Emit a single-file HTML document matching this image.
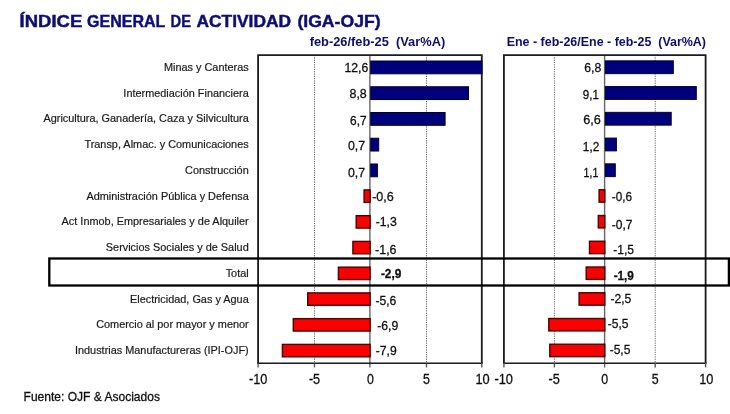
<!DOCTYPE html>
<html><head><meta charset="utf-8"><title>IGA-OJF</title>
<style>html,body{margin:0;padding:0;background:#fff;overflow:hidden}svg{display:block}text{font-family:"Liberation Sans",sans-serif}</style></head>
<body>
<svg width="730" height="414" viewBox="0 0 730 414">
<defs><filter id="soft" x="0" y="0" width="730" height="414" filterUnits="userSpaceOnUse"><feGaussianBlur stdDeviation="0.4"/></filter></defs>
<rect width="730" height="414" fill="#ffffff"/>
<g filter="url(#soft)">
<text x="19.6" y="27.4" font-size="16.5" font-weight="bold" fill="#0c0c74" stroke="#0c0c74" stroke-width="0.45" textLength="62.7" lengthAdjust="spacingAndGlyphs">ÍNDICE</text>
<text x="87.0" y="27.4" font-size="16.5" font-weight="bold" fill="#0c0c74" stroke="#0c0c74" stroke-width="0.45" textLength="78.3" lengthAdjust="spacingAndGlyphs">GENERAL</text>
<text x="170.6" y="27.4" font-size="16.5" font-weight="bold" fill="#0c0c74" stroke="#0c0c74" stroke-width="0.45" textLength="20.4" lengthAdjust="spacingAndGlyphs">DE</text>
<text x="196.5" y="27.4" font-size="16.5" font-weight="bold" fill="#0c0c74" stroke="#0c0c74" stroke-width="0.45" textLength="94.5" lengthAdjust="spacingAndGlyphs">ACTIVIDAD</text>
<text x="297.4" y="27.4" font-size="16.5" font-weight="bold" fill="#0c0c74" stroke="#0c0c74" stroke-width="0.45" textLength="83.2" lengthAdjust="spacingAndGlyphs">(IGA-OJF)</text>
<text x="309.7" y="46.3" font-size="12" font-weight="bold" fill="#10106c" textLength="135.5" lengthAdjust="spacingAndGlyphs" xml:space="preserve">feb-26/feb-25  (Var%A)</text>
<text x="506.7" y="46.3" font-size="12" font-weight="bold" fill="#10106c" textLength="199.3" lengthAdjust="spacingAndGlyphs" xml:space="preserve">Ene - feb-26/Ene - feb-25  (Var%A)</text>
<line x1="314.5" y1="55.1" x2="314.5" y2="363.2" stroke="#555" stroke-width="1" stroke-dasharray="1.1,1.2"/>
<line x1="426.5" y1="55.1" x2="426.5" y2="363.2" stroke="#555" stroke-width="1" stroke-dasharray="1.1,1.2"/>
<line x1="554.4" y1="55.1" x2="554.4" y2="363.2" stroke="#555" stroke-width="1" stroke-dasharray="1.1,1.2"/>
<line x1="655.2" y1="55.1" x2="655.2" y2="363.2" stroke="#555" stroke-width="1" stroke-dasharray="1.1,1.2"/>
<line x1="369.9" y1="55.1" x2="369.9" y2="367.4" stroke="#666" stroke-width="1.4"/>
<line x1="604.6" y1="55.1" x2="604.6" y2="367.4" stroke="#666" stroke-width="1.4"/>
<path d="M258.1 363.2V55.1H481.8V363.2" fill="none" stroke="#1c1c1c" stroke-width="1.8"/>
<line x1="257.20000000000005" y1="363.3" x2="482.7" y2="363.3" stroke="#1c1c1c" stroke-width="1.4"/>
<path d="M503.9 363.2V55.1H705.6V363.2" fill="none" stroke="#1c1c1c" stroke-width="1.8"/>
<line x1="503.0" y1="363.3" x2="706.5" y2="363.3" stroke="#1c1c1c" stroke-width="1.4"/>
<rect x="370.7" y="61.00" width="111.3" height="12.8" fill="#00007c" stroke="#000030" stroke-width="1"/>
<rect x="370.7" y="86.75" width="97.8" height="12.8" fill="#00007c" stroke="#000030" stroke-width="1"/>
<rect x="370.7" y="112.49" width="74.4" height="12.8" fill="#00007c" stroke="#000030" stroke-width="1"/>
<rect x="370.7" y="138.23" width="8.0" height="12.8" fill="#00007c" stroke="#000030" stroke-width="1"/>
<rect x="370.7" y="163.98" width="6.7" height="12.8" fill="#00007c" stroke="#000030" stroke-width="1"/>
<rect x="364.1" y="189.92" width="6.0" height="12.4" fill="#fb0006" stroke="#4a0000" stroke-width="1.4"/>
<rect x="356.2" y="215.67" width="13.9" height="12.4" fill="#fb0006" stroke="#4a0000" stroke-width="1.4"/>
<rect x="352.9" y="241.41" width="17.2" height="12.4" fill="#fb0006" stroke="#4a0000" stroke-width="1.4"/>
<rect x="338.4" y="267.16" width="31.7" height="12.4" fill="#fb0006" stroke="#4a0000" stroke-width="1.4"/>
<rect x="307.7" y="292.91" width="62.4" height="12.4" fill="#fb0006" stroke="#4a0000" stroke-width="1.4"/>
<rect x="293.3" y="318.65" width="76.8" height="12.4" fill="#fb0006" stroke="#4a0000" stroke-width="1.4"/>
<rect x="282.4" y="344.40" width="87.7" height="12.4" fill="#fb0006" stroke="#4a0000" stroke-width="1.4"/>
<rect x="605.4" y="60.85" width="67.9" height="12.8" fill="#00007c" stroke="#000030" stroke-width="1"/>
<rect x="605.4" y="86.59" width="90.9" height="12.8" fill="#00007c" stroke="#000030" stroke-width="1"/>
<rect x="605.4" y="112.34" width="65.8" height="12.8" fill="#00007c" stroke="#000030" stroke-width="1"/>
<rect x="605.4" y="138.08" width="11.0" height="12.8" fill="#00007c" stroke="#000030" stroke-width="1"/>
<rect x="605.4" y="163.83" width="9.9" height="12.8" fill="#00007c" stroke="#000030" stroke-width="1"/>
<rect x="599.1" y="189.77" width="5.7" height="12.4" fill="#fb0006" stroke="#4a0000" stroke-width="1.4"/>
<rect x="598.3" y="215.52" width="6.5" height="12.4" fill="#fb0006" stroke="#4a0000" stroke-width="1.4"/>
<rect x="589.5" y="241.26" width="15.3" height="12.4" fill="#fb0006" stroke="#4a0000" stroke-width="1.4"/>
<rect x="586.2" y="267.01" width="18.6" height="12.4" fill="#fb0006" stroke="#4a0000" stroke-width="1.4"/>
<rect x="579.1" y="292.76" width="25.7" height="12.4" fill="#fb0006" stroke="#4a0000" stroke-width="1.4"/>
<rect x="548.8" y="318.50" width="56.0" height="12.4" fill="#fb0006" stroke="#4a0000" stroke-width="1.4"/>
<rect x="549.8" y="344.25" width="55.0" height="12.4" fill="#fb0006" stroke="#4a0000" stroke-width="1.4"/>
<line x1="258.1" y1="363.2" x2="258.1" y2="367.4" stroke="#555" stroke-width="1.4"/>
<line x1="314.5" y1="363.2" x2="314.5" y2="367.4" stroke="#555" stroke-width="1.4"/>
<line x1="426.5" y1="363.2" x2="426.5" y2="367.4" stroke="#555" stroke-width="1.4"/>
<line x1="481.8" y1="363.2" x2="481.8" y2="367.4" stroke="#555" stroke-width="1.4"/>
<line x1="503.9" y1="363.2" x2="503.9" y2="367.4" stroke="#555" stroke-width="1.4"/>
<line x1="554.4" y1="363.2" x2="554.4" y2="367.4" stroke="#555" stroke-width="1.4"/>
<line x1="655.2" y1="363.2" x2="655.2" y2="367.4" stroke="#555" stroke-width="1.4"/>
<line x1="705.6" y1="363.2" x2="705.6" y2="367.4" stroke="#555" stroke-width="1.4"/>
<text x="248.9" y="383.5" font-size="14.2" fill="#111" stroke="#111" stroke-width="0.3" textLength="18.5" lengthAdjust="spacingAndGlyphs">-10</text>
<text x="308.9" y="383.5" font-size="14.2" fill="#111" stroke="#111" stroke-width="0.3" textLength="11.3" lengthAdjust="spacingAndGlyphs">-5</text>
<text x="366.9" y="383.5" font-size="14.2" fill="#111" stroke="#111" stroke-width="0.3" textLength="6.9" lengthAdjust="spacingAndGlyphs">0</text>
<text x="423.1" y="383.5" font-size="14.2" fill="#111" stroke="#111" stroke-width="0.3" textLength="6.9" lengthAdjust="spacingAndGlyphs">5</text>
<text x="475.5" y="383.5" font-size="14.2" fill="#111" stroke="#111" stroke-width="0.3" textLength="14.2" lengthAdjust="spacingAndGlyphs">10</text>
<text x="494.4" y="383.5" font-size="14.2" fill="#111" stroke="#111" stroke-width="0.3" textLength="18.5" lengthAdjust="spacingAndGlyphs">-10</text>
<text x="548.6" y="383.5" font-size="14.2" fill="#111" stroke="#111" stroke-width="0.3" textLength="11.3" lengthAdjust="spacingAndGlyphs">-5</text>
<text x="601.2" y="383.5" font-size="14.2" fill="#111" stroke="#111" stroke-width="0.3" textLength="6.9" lengthAdjust="spacingAndGlyphs">0</text>
<text x="651.8" y="383.5" font-size="14.2" fill="#111" stroke="#111" stroke-width="0.3" textLength="6.9" lengthAdjust="spacingAndGlyphs">5</text>
<text x="699.2" y="383.5" font-size="14.2" fill="#111" stroke="#111" stroke-width="0.3" textLength="14.2" lengthAdjust="spacingAndGlyphs">10</text>
<text x="344.5" y="72.0" font-size="12.8" fill="#111" stroke="#111" stroke-width="0.3" textLength="23.8" lengthAdjust="spacingAndGlyphs">12,6</text>
<text x="349.5" y="98.0" font-size="12.8" fill="#111" stroke="#111" stroke-width="0.3" textLength="17.3" lengthAdjust="spacingAndGlyphs">8,8</text>
<text x="350.1" y="125.0" font-size="12.8" fill="#111" stroke="#111" stroke-width="0.3" textLength="16.5" lengthAdjust="spacingAndGlyphs">6,7</text>
<text x="348.0" y="149.9" font-size="12.8" fill="#111" stroke="#111" stroke-width="0.3" textLength="17.1" lengthAdjust="spacingAndGlyphs">0,7</text>
<text x="348.0" y="177.0" font-size="12.8" fill="#111" stroke="#111" stroke-width="0.3" textLength="17.1" lengthAdjust="spacingAndGlyphs">0,7</text>
<text x="372.2" y="200.7" font-size="12.8" fill="#111" stroke="#111" stroke-width="0.3" textLength="21.6" lengthAdjust="spacingAndGlyphs">-0,6</text>
<text x="375.7" y="226.2" font-size="12.8" fill="#111" stroke="#111" stroke-width="0.3" textLength="21.2" lengthAdjust="spacingAndGlyphs">-1,3</text>
<text x="375.1" y="254.2" font-size="12.8" fill="#111" stroke="#111" stroke-width="0.3" textLength="21.4" lengthAdjust="spacingAndGlyphs">-1,6</text>
<text x="380.9" y="278.4" font-size="12.8" fill="#111" font-weight="bold" stroke="#111" stroke-width="0.3" textLength="20.5" lengthAdjust="spacingAndGlyphs">-2,9</text>
<text x="375.4" y="305.4" font-size="12.8" fill="#111" stroke="#111" stroke-width="0.3" textLength="20.9" lengthAdjust="spacingAndGlyphs">-5,6</text>
<text x="377.2" y="330.2" font-size="12.8" fill="#111" stroke="#111" stroke-width="0.3" textLength="21.0" lengthAdjust="spacingAndGlyphs">-6,9</text>
<text x="375.8" y="354.9" font-size="12.8" fill="#111" stroke="#111" stroke-width="0.3" textLength="20.9" lengthAdjust="spacingAndGlyphs">-7,9</text>
<text x="584.2" y="72.3" font-size="12.8" fill="#111" stroke="#111" stroke-width="0.3" textLength="17.0" lengthAdjust="spacingAndGlyphs">6,8</text>
<text x="582.8" y="99.3" font-size="12.8" fill="#111" stroke="#111" stroke-width="0.3" textLength="16.1" lengthAdjust="spacingAndGlyphs">9,1</text>
<text x="583.2" y="123.5" font-size="12.8" fill="#111" stroke="#111" stroke-width="0.3" textLength="17.6" lengthAdjust="spacingAndGlyphs">6,6</text>
<text x="582.8" y="151.2" font-size="12.8" fill="#111" stroke="#111" stroke-width="0.3" textLength="16.5" lengthAdjust="spacingAndGlyphs">1,2</text>
<text x="583.6" y="176.9" font-size="12.8" fill="#111" stroke="#111" stroke-width="0.3" textLength="14.7" lengthAdjust="spacingAndGlyphs">1,1</text>
<text x="611.8" y="200.9" font-size="12.8" fill="#111" stroke="#111" stroke-width="0.3" textLength="20.3" lengthAdjust="spacingAndGlyphs">-0,6</text>
<text x="611.8" y="228.7" font-size="12.8" fill="#111" stroke="#111" stroke-width="0.3" textLength="20.7" lengthAdjust="spacingAndGlyphs">-0,7</text>
<text x="613.2" y="253.8" font-size="12.8" fill="#111" stroke="#111" stroke-width="0.3" textLength="20.8" lengthAdjust="spacingAndGlyphs">-1,5</text>
<text x="613.7" y="279.8" font-size="12.8" fill="#111" font-weight="bold" stroke="#111" stroke-width="0.3" textLength="20.2" lengthAdjust="spacingAndGlyphs">-1,9</text>
<text x="610.4" y="303.2" font-size="12.8" fill="#111" stroke="#111" stroke-width="0.3" textLength="20.9" lengthAdjust="spacingAndGlyphs">-2,5</text>
<text x="607.7" y="327.8" font-size="12.8" fill="#111" stroke="#111" stroke-width="0.3" textLength="20.8" lengthAdjust="spacingAndGlyphs">-5,5</text>
<text x="609.7" y="353.9" font-size="12.8" fill="#111" stroke="#111" stroke-width="0.3" textLength="20.7" lengthAdjust="spacingAndGlyphs">-5,5</text>
<g transform="translate(248.7,0) scale(0.957,1)" font-size="11.4" fill="#1a1a1a" stroke="#1a1a1a" stroke-width="0.2" text-anchor="end">
<text x="0" y="71.00">Minas y Canteras</text>
<text x="0" y="96.75">Intermediación Financiera</text>
<text x="0" y="122.50">Agricultura, Ganadería, Caza y Silvicultura</text>
<text x="0" y="148.25">Transp, Almac. y Comunicaciones</text>
<text x="0" y="174.00">Construcción</text>
<text x="0" y="199.75">Administración Pública y Defensa</text>
<text x="0" y="225.50">Act Inmob, Empresariales y de Alquiler</text>
<text x="0" y="251.25">Servicios Sociales y de Salud</text>
<text x="0" y="277.00">Total</text>
<text x="0" y="302.75">Electricidad, Gas y Agua</text>
<text x="0" y="328.50">Comercio al por mayor y menor</text>
<text x="0" y="354.25">Industrias Manufactureras (IPI-OJF)</text>
</g>
<rect x="49.3" y="258.5" width="679.6" height="27" fill="none" stroke="#000" stroke-width="2.3"/>
<text x="23.6" y="401.4" font-size="13" fill="#111" stroke="#111" stroke-width="0.3" textLength="136.3" lengthAdjust="spacingAndGlyphs">Fuente: OJF &amp; Asociados</text>
</g>
</svg></body></html>
